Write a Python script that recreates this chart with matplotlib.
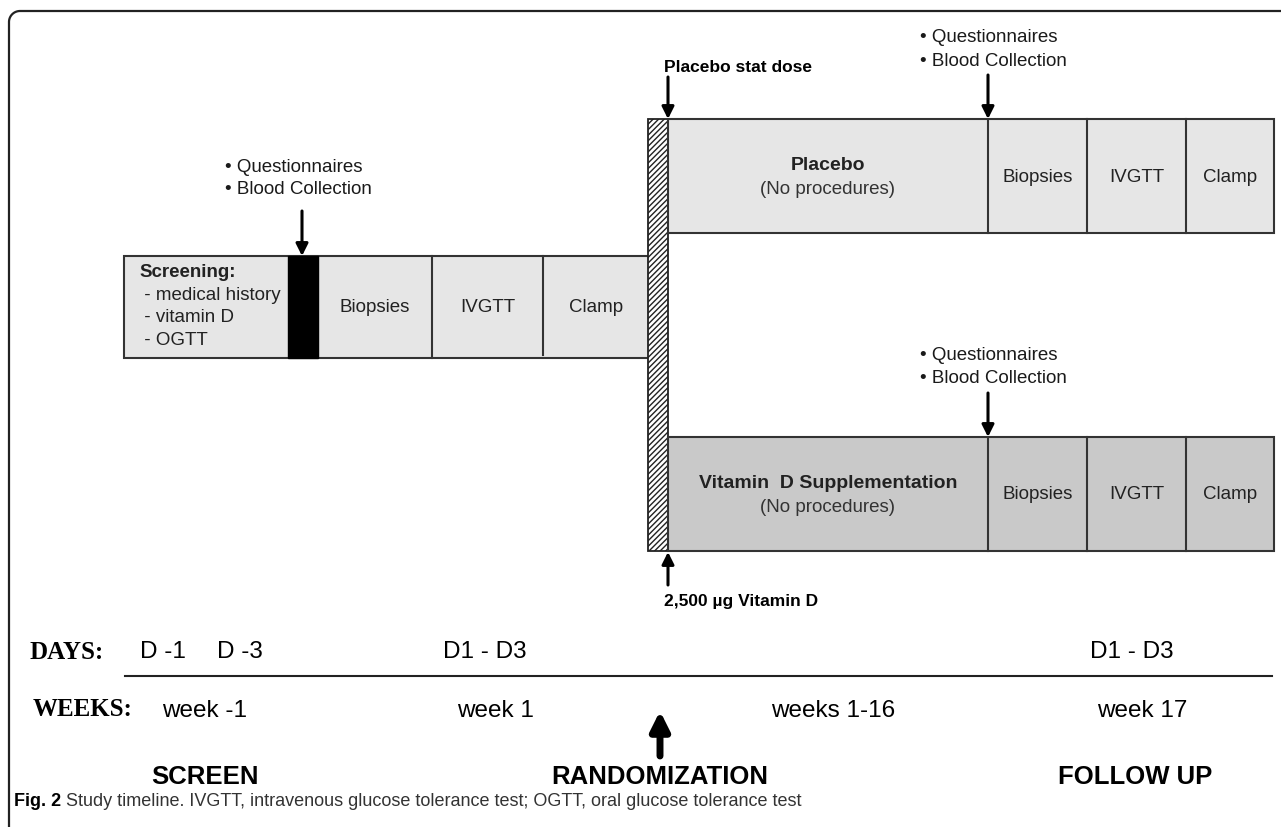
import numpy as np
import matplotlib.pyplot as plt
from matplotlib.patches import Rectangle

SANS = ['Liberation Sans', 'DejaVu Sans']
SERIF = ['Liberation Serif', 'DejaVu Serif']
NARROW = ['Liberation Sans Narrow', 'Liberation Sans', 'DejaVu Sans']

LIGHT = '#e6e6e6'
DARK = '#c9c9c9'
EDGE = '#333333'

# screening row: segment edges (px) and labels
screen_edges = [124, 288, 318, 432, 543, 649]
screen_labels = ['', '', 'Biopsies', 'IVGTT', 'Clamp']
screen_y = (257, 359)
screening_lines = ['Screening:', ' - medical history', ' - vitamin D', ' - OGTT']

# arms after randomization
arm_edges = [668, 988, 1087, 1186, 1274]
arm_rows = [
    ('Placebo', '(No procedures)', LIGHT, (120, 234)),
    ('Vitamin  D Supplementation', '(No procedures)', DARK, (438, 552)),
]
arm_tail = ['Biopsies', 'IVGTT', 'Clamp']

bullets = ['\u2022 Questionnaires', '\u2022 Blood Collection']

days_labels = ['D -1', 'D -3', 'D1 - D3', 'D1 - D3']
days_x = [140, 217, 443, 1090]
weeks_labels = ['week -1', 'week 1', 'weeks 1-16', 'week 17']
weeks_x = [162, 457, 771, 1097]
phase_labels = ['SCREEN', 'RANDOMIZATION', 'FOLLOW UP']
phase_x = [205, 660, 1135]

caption_bold = 'Fig. 2'
caption_rest = ' Study timeline. IVGTT, intravenous glucose tolerance test; OGTT, oral glucose tolerance test'

fig = plt.figure(figsize=(12.81, 8.28), dpi=100)
ax = fig.add_axes([0, 0, 1, 1])
ax.set_xlim(0, 1281)
ax.set_ylim(828, 0)
ax.axis('off')


def arrow(x, y0, y1, lw=2.2, scale=18):
    ax.annotate('', xy=(x, y1), xytext=(x, y0),
                arrowprops=dict(arrowstyle='-|>', lw=lw, color='black',
                                mutation_scale=scale, shrinkA=0, shrinkB=0))


def bullet_block(x, y):
    for i, t in enumerate(bullets):
        ax.text(x, y + i * 23, t, fontsize=13.5, family=SANS, va='center', ha='left',
                color='#1a1a1a')


# outer frame: top + left with rounded corner
r = 11
th = np.linspace(np.pi, 1.5 * np.pi, 20)
fx = np.concatenate([[9], 9 + r + r * np.cos(th), [1281]])
fy = np.concatenate([[828], 12 + r + r * np.sin(th), [12]])
ax.plot(fx, fy, color='#222222', lw=1.6, solid_capstyle='butt')

# screening row
y0, y1 = screen_y
ax.add_patch(Rectangle((screen_edges[0], y0), screen_edges[-1] - screen_edges[0], y1 - y0,
                       facecolor=LIGHT, edgecolor=EDGE, lw=1.5))
ax.add_patch(Rectangle((screen_edges[1], y0), screen_edges[2] - screen_edges[1], y1 - y0,
                       facecolor='black', edgecolor='black', lw=1))
for xe in screen_edges[3:5]:
    ax.plot([xe, xe], [y0, y1 - (3 if xe == screen_edges[4] else 0)], color=EDGE, lw=1.5)
for i, lab in enumerate(screen_labels):
    if lab:
        ax.text((screen_edges[i] + screen_edges[i + 1]) / 2, (y0 + y1) / 2, lab,
                fontsize=13.5, family=SANS, ha='center', va='center', color='#222222')
for i, t in enumerate(screening_lines):
    ax.text(139, y0 + 16 + i * 22.5, t, fontsize=13.5, family=SANS, va='center', ha='left',
            fontweight='bold' if i == 0 else 'normal', color='#222222')
bullet_block(225, 167)
arrow(302, 212, y0)

# randomization hatched bar
ax.add_patch(Rectangle((648, 120), arm_edges[0] - 648, 552 - 120, facecolor='white',
                       edgecolor='#222222', lw=1.3, hatch='//////'))

# arms
for title, sub, color, (a0, a1) in arm_rows:
    ax.add_patch(Rectangle((arm_edges[0], a0), arm_edges[-1] - arm_edges[0], a1 - a0,
                           facecolor=color, edgecolor=EDGE, lw=1.5))
    for xe in arm_edges[1:-1]:
        ax.plot([xe, xe], [a0, a1], color=EDGE, lw=1.5)
    xc = (arm_edges[0] + arm_edges[1]) / 2
    ym = (a0 + a1) / 2
    ax.text(xc, ym - 11, title, fontsize=14, family=SANS, fontweight='bold',
            ha='center', va='center', color='#222222')
    ax.text(xc, ym + 13, sub, fontsize=13.5, family=SANS, ha='center', va='center', color='#333333')
    for i, lab in enumerate(arm_tail):
        ax.text((arm_edges[i + 1] + arm_edges[i + 2]) / 2, ym, lab, fontsize=13.5,
                family=SANS, ha='center', va='center', color='#222222')
    bullet_block(920, a0 - 82)
    arrow(arm_edges[1], a0 - 44, a0)

ax.text(664, 67, 'Placebo stat dose', fontsize=12.5, family=SANS, fontweight='bold',
        va='center', ha='left')
arrow(arm_edges[0], 78, 120)
arrow(arm_edges[0], 586, 553)
ax.text(664, 602, '2,500 \u00b5g Vitamin D', fontsize=12.5, family=SANS, fontweight='bold',
        va='center', ha='left')

# timeline rows
ax.text(30, 653, 'DAYS:', fontsize=18, family=SERIF, fontweight='bold', va='center')
for lab, x in zip(days_labels, days_x):
    ax.text(x, 652, lab, fontsize=17.5, family=SANS, va='center')
ax.plot([125, 1272], [677, 677], color='#222222', lw=1.5)
ax.text(33, 710, 'WEEKS:', fontsize=18, family=SERIF, fontweight='bold', va='center')
for lab, x in zip(weeks_labels, weeks_x):
    ax.text(x, 711, lab, fontsize=17.5, family=SANS, va='center')
arrow(660, 757, 712, lw=5, scale=28)
for lab, x in zip(phase_labels, phase_x):
    ax.text(x, 777, lab, fontsize=18.5, family=SANS, fontweight='bold', ha='center', va='center')

cap = ax.text(14, 802, caption_bold, fontsize=13, family=NARROW, fontweight='bold', va='center')
ax.annotate(caption_rest, xy=(1, 0.5), xycoords=cap, fontsize=13, family=NARROW,
            va='center', ha='left', color='#333333')

fig.savefig('out.png', dpi=100)
